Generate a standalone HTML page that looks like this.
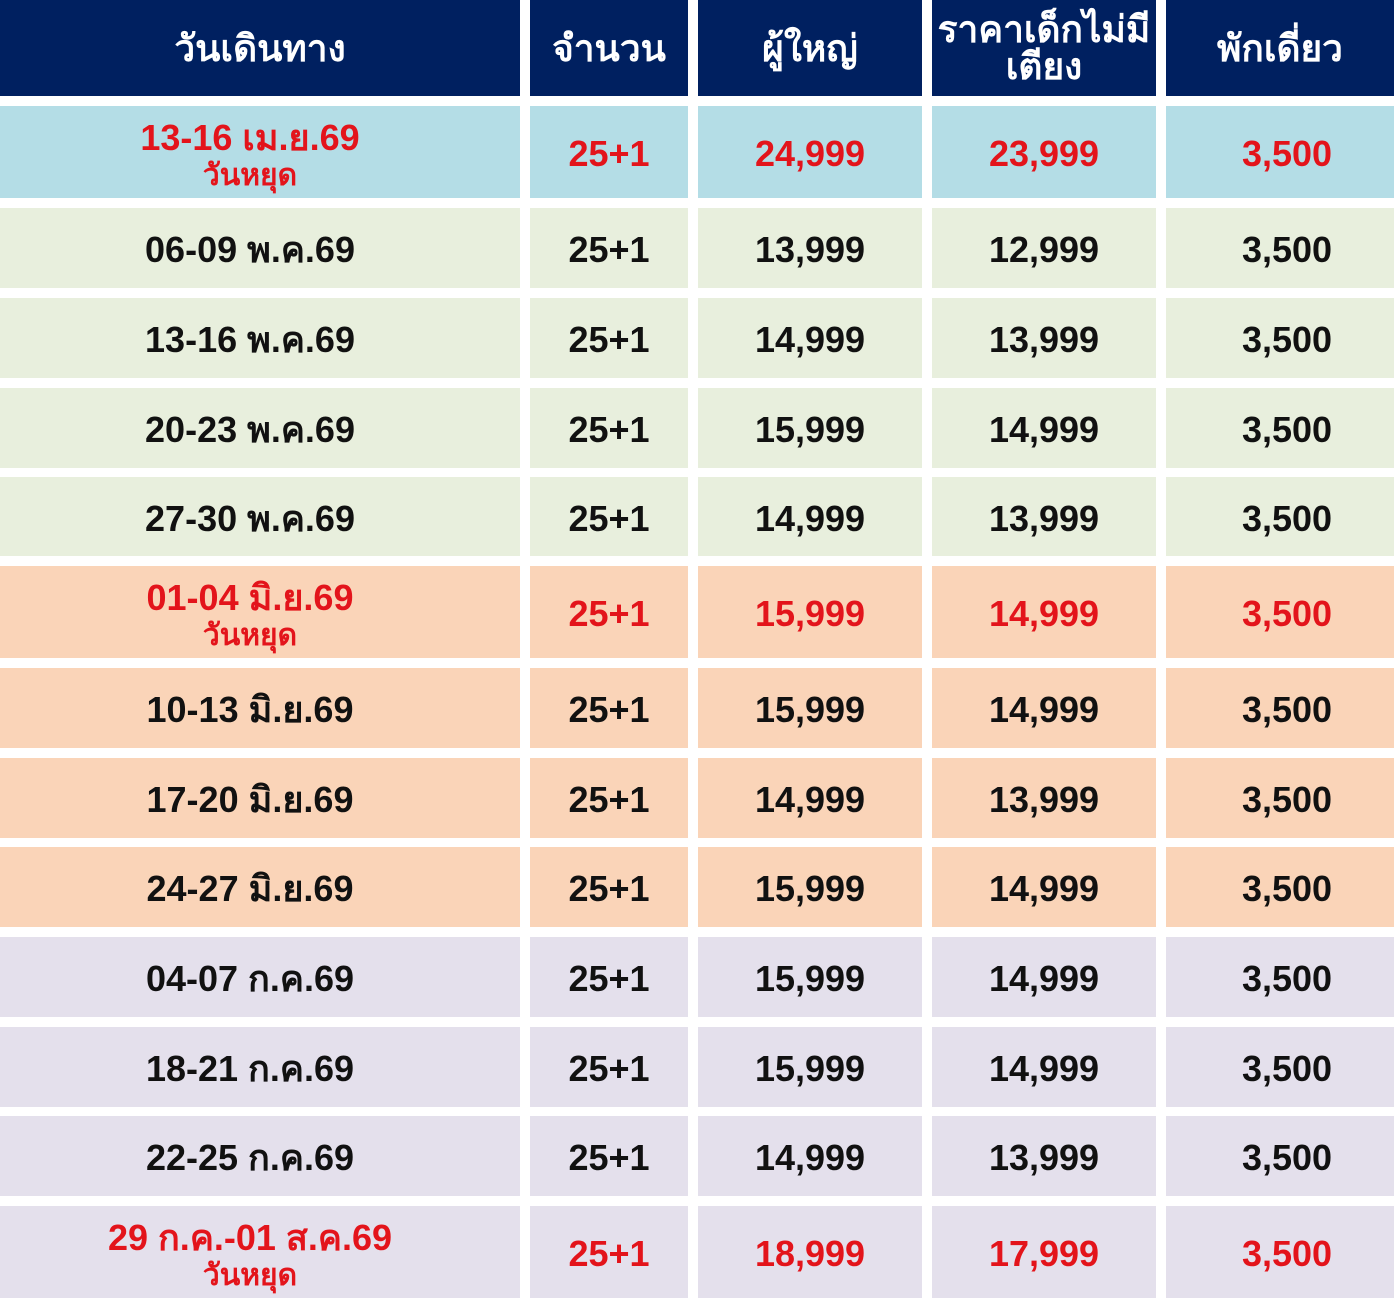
<!DOCTYPE html>
<html><head><meta charset="utf-8"><style>
body{margin:0;width:1394px;height:1298px;background:#fff;position:relative;overflow:hidden;font-family:"Liberation Sans","DejaVu Sans",sans-serif;font-weight:bold}
.c{position:absolute;display:flex;flex-direction:column;align-items:center;justify-content:center;text-align:center;font-size:36px;line-height:1.2;color:#111;padding-top:4px;box-sizing:border-box}
.h{background:#002060;color:#fff;font-size:37px;line-height:1.0;padding-top:0}
.r{color:#e3141b}
.s{font-size:30px;line-height:1.1}
</style></head><body>
<div id="t"></div>
<script>
const X=[[0,520],[530,688],[698,922],[932,1156],[1166,1394]];
const H=['วันเดินทาง','จำนวน','ผู้ใหญ่','ราคาเด็กไม่มี<br>เตียง','พักเดี่ยว'];
const R=[[106,198,'#b4dde6',1,'13-16 เม.ย.69','วันหยุด','24,999','23,999'],
[208,288,'#e8efdd',0,'06-09 พ.ค.69','','13,999','12,999'],
[298,378,'#e8efdd',0,'13-16 พ.ค.69','','14,999','13,999'],
[388,468,'#e8efdd',0,'20-23 พ.ค.69','','15,999','14,999'],
[477,556,'#e8efdd',0,'27-30 พ.ค.69','','14,999','13,999'],
[566,658,'#fad4b8',1,'01-04 มิ.ย.69','วันหยุด','15,999','14,999'],
[668,748,'#fad4b8',0,'10-13 มิ.ย.69','','15,999','14,999'],
[758,838,'#fad4b8',0,'17-20 มิ.ย.69','','14,999','13,999'],
[847,927,'#fad4b8',0,'24-27 มิ.ย.69','','15,999','14,999'],
[937,1017,'#e4e0ec',0,'04-07 ก.ค.69','','15,999','14,999'],
[1027,1107,'#e4e0ec',0,'18-21 ก.ค.69','','15,999','14,999'],
[1116,1196,'#e4e0ec',0,'22-25 ก.ค.69','','14,999','13,999'],
[1206,1298,'#e4e0ec',1,'29 ก.ค.-01 ส.ค.69','วันหยุด','18,999','17,999']];
let h='';
X.forEach((x,i)=>{h+=`<div class="c h" style="left:${x[0]}px;width:${x[1]-x[0]}px;top:0;height:96px">${H[i]}</div>`});
R.forEach(r=>{
 const v=['','25+1',r[6],r[7],'3,500'];
 X.forEach((x,i)=>{
  let pad=i==0?'padding-right:20px;':i==4?'padding-left:14px;':'';
  let content=i==0?(r[5]?`<span>${r[4]}</span><span class="s">${r[5]}</span>`:r[4]):v[i];
  h+=`<div class="c${r[3]?' r':''}" style="left:${x[0]}px;width:${x[1]-x[0]}px;top:${r[0]}px;height:${r[1]-r[0]}px;background:${r[2]};${pad}">${content}</div>`;
 });
});
document.getElementById('t').innerHTML=h;
</script>
</body></html>
